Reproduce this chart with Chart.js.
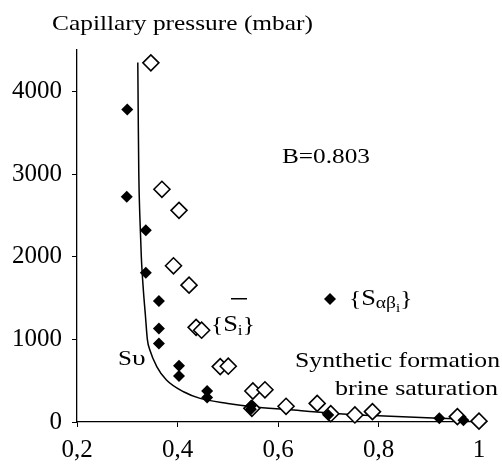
<!DOCTYPE html>
<html>
<head>
<meta charset="utf-8">
<script src="https://cdn.jsdelivr.net/npm/chart.js@4"></script>
<style>
  html, body { margin: 0; padding: 0; background: #fff; }
  #wrap { width: 502px; height: 466px; }
</style>
</head>
<body>
<div id="wrap"><canvas id="grafik"></canvas></div>
<script>
// saturation (x) and capillary pressure in mbar (y)
const alphaBetaX = [0.300, 0.299, 0.337, 0.337, 0.363, 0.363, 0.363, 0.403, 0.403, 0.459, 0.459, 0.546, 0.546, 0.700, 0.921, 0.969];
const alphaBetaY = [3780, 2725, 2320, 1805, 1465, 1130, 950, 680, 555, 375, 295, 195, 155, 85, 45, 20];

const meanX = [0.347, 0.369, 0.403, 0.392, 0.423, 0.437, 0.448, 0.485, 0.501, 0.550, 0.574, 0.548, 0.616, 0.678, 0.705, 0.753, 0.788, 0.957, 1.000];
const meanY = [4345, 2815, 2560, 1890, 1655, 1145, 1110, 670, 675, 375, 390, 165, 190, 225, 100, 85, 125, 65, 10];

// S_v curve
const curveX = [0.321, 0.322, 0.323, 0.325, 0.328, 0.332, 0.336, 0.340, 0.345, 0.359, 0.378, 0.412, 0.445, 0.50, 0.55, 0.62, 0.70, 0.80, 0.92, 0.97];
const curveY = [4350, 3600, 3000, 2500, 2000, 1600, 1300, 1000, 870, 668, 508, 366, 286, 225, 185, 150, 110, 75, 45, 35];

const xTicks = [0.2, 0.4, 0.6, 0.8, 1];
const xTickLabels = ['0,2', '0,4', '0,6', '0,8', '1'];
const yTicks = [0, 1000, 2000, 3000, 4000];

const serif = '"Liberation Serif", "Times New Roman", serif';

function pts(xs, ys) {
    return xs.map(function(x, i) { return { x: x, y: ys[i] }; });
}

// text squeezed/stretched to the width seen in the picture
function wideText(ctx, str, x, y, size, width, align) {
    ctx.font = size + 'px ' + serif;
    const w = ctx.measureText(str).width;
    const k = width / w;
    const left = align === 'right' ? x - width : x;
    ctx.save();
    ctx.translate(left, y);
    ctx.scale(k, 1);
    ctx.textAlign = 'left';
    ctx.fillText(str, 0, 0);
    ctx.restore();
}

// pieces: [text, size, dy], drawn one after another
function pieces(ctx, parts, x, y, k) {
    let cx = x;
    parts.forEach(function(p) {
        ctx.font = p[1] + 'px ' + serif;
        ctx.save();
        ctx.translate(cx, y + p[2]);
        ctx.scale(k, 1);
        ctx.textAlign = 'left';
        ctx.fillText(p[0], 0, 0);
        ctx.restore();
        cx += ctx.measureText(p[0]).width * k;
    });
}

const textPlugin = {
    id: 'texte',
    afterDraw: function(chart) {
        const ctx = chart.ctx;
        ctx.save();
        ctx.fillStyle = '#000';
        ctx.textBaseline = 'alphabetic';

        wideText(ctx, 'Capillary pressure (mbar)', 52, 30, 22, 261);
        wideText(ctx, 'B=0.803', 282, 163, 22, 88);
        wideText(ctx, 'Synthetic formation', 500, 367, 22, 205, 'right');
        wideText(ctx, 'brine saturation', 498, 395, 22, 163, 'right');

        // S_v
        pieces(ctx, [['S', 20, 0], ['\u03c5', 22, 0]], 118, 365, 1.25);

        // {S_i} with bar
        pieces(ctx, [['{', 22, 0], ['S', 23, 0], ['i', 15, 4], ['}', 22, 0]], 211, 331, 1.15);
        ctx.fillRect(231, 298, 16, 1.5);

        // legend for filled diamonds
        const lx = 330, ly = 299, r = 6;
        ctx.beginPath();
        ctx.moveTo(lx - r, ly); ctx.lineTo(lx, ly - r); ctx.lineTo(lx + r, ly); ctx.lineTo(lx, ly + r);
        ctx.closePath();
        ctx.fill();
        pieces(ctx, [['{', 22, 0], ['S', 23, 0], ['\u03b1\u03b2', 17, 3], ['i', 13, 7], ['}', 22, 0]], 349, 305, 1.15);
        ctx.restore();
    }
};

document.addEventListener('DOMContentLoaded', function() {
    const canvas = document.getElementById('grafik');
    const ctx = canvas.getContext('2d');
    new Chart(ctx, {
        type: 'scatter',
        data: {
            datasets: [
                {
                    label: 'S alpha beta i',
                    data: pts(alphaBetaX, alphaBetaY),
                    pointStyle: 'rectRot',
                    pointRadius: 6,
                    pointBackgroundColor: '#000',
                    pointBorderColor: '#000',
                    pointBorderWidth: 0,
                    clip: false,
                    order: 1
                },
                {
                    label: 'S i',
                    data: pts(meanX, meanY),
                    pointStyle: 'rectRot',
                    pointRadius: 8,
                    pointBackgroundColor: '#fff',
                    pointBorderColor: '#000',
                    pointBorderWidth: 1.6,
                    clip: false,
                    order: 2
                },
                {
                    label: 'S v',
                    type: 'line',
                    data: pts(curveX, curveY),
                    borderColor: '#000',
                    borderWidth: 1.5,
                    pointRadius: 0,
                    fill: false,
                    cubicInterpolationMode: 'monotone',
                    clip: false,
                    order: 3
                }
            ]
        },
        options: {
            responsive: true,
            maintainAspectRatio: false,
            animation: false,
            events: [],
            layout: { padding: { left: 0, right: 23, top: 50, bottom: 0 } },
            plugins: { legend: { display: false }, tooltip: { enabled: false } },
            scales: {
                x: {
                    type: 'linear',
                    min: 0.2,
                    max: 1,
                    afterFit: function(s) { s.height = 44; },
                    afterBuildTicks: function(s) { s.ticks = xTicks.map(function(v) { return { value: v }; }); },
                    border: { display: true, color: '#000', width: 1.3 },
                    grid: { display: true, drawOnChartArea: false, drawTicks: true, tickLength: 5, color: '#000' },
                    ticks: {
                        color: '#000',
                        font: { family: serif, size: 25 },
                        padding: 8,
                        maxRotation: 0,
                        callback: function(value) {
                            const i = xTicks.indexOf(value);
                            return i >= 0 ? xTickLabels[i] : '';
                        }
                    }
                },
                y: {
                    type: 'linear',
                    min: 0,
                    max: 4500,
                    afterFit: function(s) { s.width = 77; },
                    afterBuildTicks: function(s) { s.ticks = yTicks.map(function(v) { return { value: v }; }); },
                    border: { display: true, color: '#000', width: 1.3 },
                    grid: { display: true, drawOnChartArea: false, drawTicks: true, tickLength: 5, color: '#000' },
                    ticks: {
                        color: '#000',
                        font: { family: serif, size: 25 },
                        padding: 10,
                        callback: function(value) { return String(value); }
                    }
                }
            }
        },
        plugins: [textPlugin]
    });
});
</script>
</body>
</html>
